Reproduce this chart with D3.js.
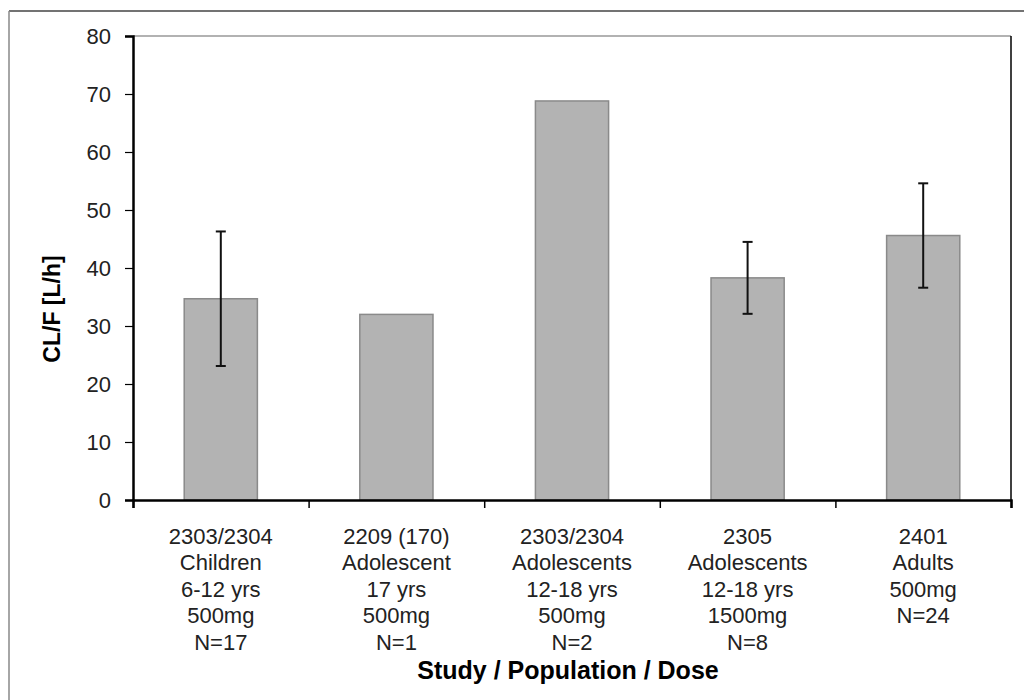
<!DOCTYPE html>
<html>
<head>
<meta charset="utf-8">
<script src="https://cdn.jsdelivr.net/npm/d3@7"></script>
<style>
  html, body { margin: 0; padding: 0; background: #fff; }
  svg { display: block; font-family: "Liberation Sans", Arial, sans-serif; }
</style>
</head>
<body>
<svg id="chart" width="1024" height="700"></svg>
<script>
// Study groups (label lines under each bar)
const categories = ["g1", "g2", "g3", "g4", "g5"];
const categoryLabels = [
  ["2303/2304", "Children", "6-12 yrs", "500mg", "N=17"],
  ["2209 (170)", "Adolescent", "17 yrs", "500mg", "N=1"],
  ["2303/2304", "Adolescents", "12-18 yrs", "500mg", "N=2"],
  ["2305", "Adolescents", "12-18 yrs", "1500mg", "N=8"],
  ["2401", "Adults", "500mg", "N=24"]
];
// Mean apparent clearance CL/F [L/h] and its SD (null = no error bar)
const meanCL = [34.7, 32.0, 68.8, 38.3, 45.6];
const sdCL = [11.6, null, null, 6.2, 9.0];
const yTicks = [0, 10, 20, 30, 40, 50, 60, 70, 80];

const svg = d3.select("#chart");
const plot = { left: 133, right: 1011, top: 36, bottom: 500 };

// outer frame (runs off the right and bottom edges)
svg.append("line").attr("x1", 9).attr("x2", 1030).attr("y1", 11).attr("y2", 11)
  .attr("stroke", "#444").attr("stroke-width", 1.5);
svg.append("line").attr("x1", 9).attr("x2", 9).attr("y1", 11).attr("y2", 710)
  .attr("stroke", "#888").attr("stroke-width", 1.5);

const x = d3.scaleBand().domain(categories)
  .range([plot.left, plot.right]).paddingInner(0.5833).paddingOuter(0.29165);
const y = d3.scaleLinear().domain([0, 80]).range([plot.bottom, plot.top]);

// plot area frame: top and right edges
svg.append("line").attr("x1", plot.left).attr("x2", plot.right)
  .attr("y1", plot.top).attr("y2", plot.top).attr("stroke", "#999").attr("stroke-width", 1.5);
svg.append("line").attr("x1", plot.right).attr("x2", plot.right)
  .attr("y1", plot.top).attr("y2", plot.bottom).attr("stroke", "#000").attr("stroke-width", 1.5);

// bars
svg.append("g").selectAll("rect").data(meanCL).join("rect")
  .attr("x", (d, i) => x(categories[i]))
  .attr("width", x.bandwidth())
  .attr("y", d => y(d))
  .attr("height", d => y(0) - y(d))
  .attr("fill", "#b3b3b3")
  .attr("stroke", "#8a8a8a")
  .attr("stroke-width", 1.5);

// error bars
const eb = svg.append("g").attr("stroke", "#111").attr("stroke-width", 2);
meanCL.forEach((m, i) => {
  const s = sdCL[i];
  if (s == null) return;
  const cx = x(categories[i]) + x.bandwidth() / 2;
  eb.append("line").attr("x1", cx).attr("x2", cx).attr("y1", y(m + s)).attr("y2", y(m - s));
  [m + s, m - s].forEach(v => {
    eb.append("line").attr("x1", cx - 5).attr("x2", cx + 5).attr("y1", y(v)).attr("y2", y(v));
  });
});

// y axis
const yAxis = svg.append("g").attr("transform", `translate(${plot.left},0)`)
  .call(d3.axisLeft(y).tickValues(yTicks).tickSize(8).tickPadding(14));
yAxis.select(".domain").attr("stroke", "#000").attr("stroke-width", 2.5);
yAxis.selectAll(".tick line").attr("stroke", "#000").attr("stroke-width", 1.2);
yAxis.selectAll(".tick text").attr("font-size", 22).attr("fill", "#222")
  .attr("font-family", "'Liberation Sans', Arial, sans-serif");

// x axis with tick marks on category boundaries
const xEdges = d3.scaleLinear().domain([0, categories.length]).range([plot.left, plot.right]);
const xAxis = svg.append("g").attr("transform", `translate(0,${plot.bottom})`)
  .call(d3.axisBottom(xEdges).ticks(categories.length).tickSize(8).tickFormat(""));
xAxis.select(".domain").attr("stroke", "#000").attr("stroke-width", 2.5);
xAxis.selectAll(".tick line").attr("stroke", "#000").attr("stroke-width", 1.5);

// category labels
const lab = svg.append("g").attr("font-size", 22).attr("fill", "#222").attr("text-anchor", "middle");
categoryLabels.forEach((lines, i) => {
  const cx = x(categories[i]) + x.bandwidth() / 2;
  const t = lab.append("text").attr("x", cx).attr("y", 543.5);
  lines.forEach((ln, j) => {
    t.append("tspan").attr("x", cx).attr("y", 543.5 + j * 26.6).text(ln);
  });
});

// axis titles
svg.append("text").attr("x", 568).attr("y", 679).attr("text-anchor", "middle")
  .attr("font-size", 25).attr("font-weight", "bold").attr("fill", "#000")
  .text("Study / Population / Dose");
svg.append("text").attr("transform", "translate(60,309) rotate(-90)").attr("text-anchor", "middle")
  .attr("font-size", 23).attr("font-weight", "bold").attr("fill", "#000")
  .text("CL/F [L/h]");
</script>
</body>
</html>
